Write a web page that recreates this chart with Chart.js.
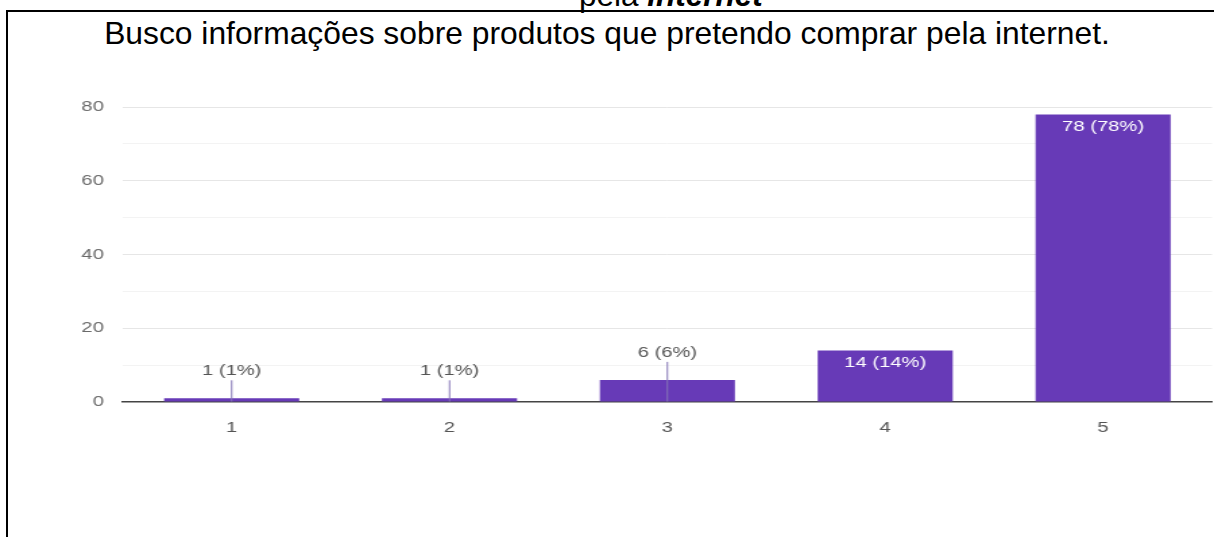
<!DOCTYPE html>
<html>
<head>
<meta charset="utf-8">
<script src="https://cdn.jsdelivr.net/npm/chart.js@4.4.1/dist/chart.umd.min.js"></script>
<style>
  html, body { margin: 0; padding: 0; background: #fff; }
  body {
    width: 1214px; height: 537px; overflow: hidden; position: relative;
    font-family: "Liberation Sans", Arial, sans-serif; color: #000;
  }
  .caption-tail {
    position: absolute; left: 579px; top: -20px;
    font-size: 31.5px; line-height: 31.5px; white-space: nowrap;
  }
  .frame-top { position: absolute; left: 6px; top: 10px; width: 1208px; height: 2px; background: #000; }
  .frame-left { position: absolute; left: 6px; top: 10px; width: 2px; height: 527px; background: #000; }
  .title {
    position: absolute; left: 0; top: 18px; width: 1214px; text-align: center;
    font-size: 31.8px; line-height: 31.8px; white-space: nowrap;
  }
  /* the chart image is laid out narrower and widened horizontally */
  #wrap {
    position: absolute; left: 0; top: 0; width: 900px; height: 537px;
    transform: scaleX(1.3489); transform-origin: 0 0;
  }
</style>
</head>
<body>
<div class="caption-tail">pela <b><i>internet</i></b></div>
<div class="frame-top"></div>
<div class="frame-left"></div>
<div class="title">Busco informações sobre produtos que pretendo comprar pela internet.</div>
<div id="wrap"><canvas id="c" width="900" height="537"></canvas></div>

<script>
// Answers on a 1–5 scale
const categories = ['1', '2', '3', '4', '5'];
const counts = [1, 1, 6, 14, 78];
const yTickLabels = [0, 20, 40, 60, 80];

const total = counts.reduce((a, b) => a + b, 0);
const barColor = '#673ab7';
const fontFamily = '"Liberation Sans", Arial, sans-serif';
const labelFont = '15px ' + fontFamily;

// "n (p%)" labels: white inside tall bars, grey with a leader line above short ones
const valueLabels = {
  id: 'valueLabels',
  afterDatasetsDraw(chart) {
    const ctx = chart.ctx;
    const meta = chart.getDatasetMeta(0);
    meta.data.forEach((bar, i) => {
      const v = counts[i];
      const pct = Math.round(v / total * 100);
      const text = v + ' (' + pct + '%)';
      const h = bar.base - bar.y;
      ctx.save();
      ctx.font = labelFont;
      ctx.textAlign = 'center';
      ctx.textBaseline = 'middle';
      if (h > 30) {
        ctx.fillStyle = '#ffffff';
        ctx.fillText(text, bar.x, bar.y + 12);
      } else {
        ctx.strokeStyle = '#8576b6';
        ctx.lineWidth = 1;
        ctx.beginPath();
        ctx.moveTo(bar.x, bar.y - 18);
        ctx.lineTo(bar.x, bar.base);
        ctx.stroke();
        ctx.fillStyle = '#555555';
        ctx.fillText(text, bar.x, bar.y - 27);
      }
      ctx.restore();
    });
  }
};

new Chart(document.getElementById('c'), {
  type: 'bar',
  data: {
    labels: categories,
    datasets: [{
      data: counts,
      backgroundColor: barColor,
      borderWidth: 0,
      categoryPercentage: 1,
      barPercentage: 0.62
    }]
  },
  options: {
    responsive: false,
    animation: false,
    layout: { padding: { top: 107, left: 0, right: 1.5, bottom: 0 } },
    plugins: { legend: { display: false }, tooltip: { enabled: false } },
    scales: {
      x: {
        grid: { display: false },
        border: { display: true, color: '#444444', width: 1.5 },
        ticks: {
          color: '#555555', padding: 9,
          font: { family: fontFamily, size: 15 }
        },
        afterFit(scale) { scale.height = 135; }
      },
      y: {
        min: 0, max: 80,
        border: { display: false },
        grid: {
          drawTicks: false,
          color: (c) => c.tick.value === 0 ? 'rgba(0,0,0,0)'
            : (c.tick.value % 20 === 0 ? '#e6e6e6' : '#f3f3f3')
        },
        ticks: {
          stepSize: 10, padding: 14, color: '#6a6a6a',
          font: { family: fontFamily, size: 15 },
          callback: (v) => yTickLabels.includes(v) ? String(v) : ''
        },
        afterFit(scale) { scale.width = 91; }
      }
    }
  },
  plugins: [valueLabels]
});
</script>
</body>
</html>
